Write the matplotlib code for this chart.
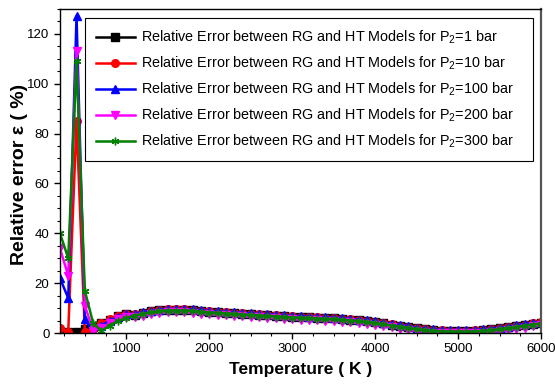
import numpy as np
import matplotlib
matplotlib.use('Agg')
import matplotlib.pyplot as plt
from matplotlib.ticker import MultipleLocator

plt.rcParams['font.family'] = ['Liberation Sans', 'DejaVu Sans']
plt.rcParams['mathtext.default'] = 'regular'

# --- Data ---
temperature = list(range(200, 6001, 100))

err_1bar = [0.3, 0.4, 0.6, 1.5, 2.5, 3.9, 5.4, 6.7, 7.5,
            7.4, 8.1, 8.7, 9.1, 9.4, 9.4, 9.4, 9.2, 8.9, 8.6,
            8.4, 8.2, 8.0, 7.8, 7.6, 7.4, 7.2, 7.0, 6.8, 6.6,
            6.5, 6.3, 6.2, 6.0, 5.9, 5.7, 5.4, 5.1, 4.8, 4.4,
            3.9, 3.4, 2.9, 2.4, 1.9, 1.5, 1.2, 1.0, 0.9, 0.9,
            0.9, 1.0, 1.2, 1.5, 1.9, 2.3, 2.8, 3.3, 3.8, 4.2]
err_10bar = [2.0, 0.5, 85.0, 0.5, 1.5, 4.0, 5.5, 6.8, 7.6,
             7.5, 8.2, 8.8, 9.2, 9.5, 9.5, 9.5, 9.3, 9.0, 8.7,
             8.5, 8.3, 8.1, 7.9, 7.7, 7.5, 7.3, 7.1, 6.9, 6.7,
             6.6, 6.4, 6.3, 6.1, 6.0, 5.8, 5.5, 5.2, 4.9, 4.5,
             4.0, 3.5, 3.0, 2.5, 2.0, 1.6, 1.3, 1.1, 1.0, 1.0,
             1.0, 1.1, 1.3, 1.6, 2.0, 2.4, 2.9, 3.4, 3.9, 4.3]
err_100bar = [22.0, 14.0, 127.0, 5.5, 0.5, 3.0, 5.0, 6.5, 7.6,
              7.7, 8.4, 9.0, 9.4, 9.7, 9.7, 9.7, 9.5, 9.2, 8.9,
              8.7, 8.5, 8.3, 8.1, 7.9, 7.7, 7.5, 7.3, 7.1, 6.9,
              6.8, 6.6, 6.5, 6.3, 6.2, 6.0, 5.7, 5.4, 5.1, 4.7,
              4.2, 3.7, 3.2, 2.7, 2.2, 1.8, 1.5, 1.3, 1.2, 1.2,
              1.2, 1.3, 1.5, 1.8, 2.2, 2.6, 3.1, 3.6, 4.1, 4.5]
err_200bar = [34.0, 23.0, 113.0, 11.0, 1.0, 2.0, 4.0, 5.5, 6.5,
              6.3, 7.0, 7.6, 8.0, 8.3, 8.3, 8.3, 8.1, 7.8, 7.5,
              7.3, 7.1, 6.9, 6.7, 6.5, 6.3, 6.1, 5.9, 5.7, 5.5,
              5.4, 5.2, 5.1, 4.9, 4.8, 4.6, 4.3, 4.0, 3.7, 3.3,
              2.8, 2.3, 1.8, 1.3, 0.8, 0.4, 0.2, 0.1, 0.1, 0.1,
              0.1, 0.1, 0.2, 0.4, 0.8, 1.2, 1.7, 2.2, 2.7, 3.1]
err_300bar = [40.0, 30.0, 109.0, 17.0, 4.0, 0.8, 3.0, 4.8, 6.0,
              7.0, 7.7, 8.3, 8.7, 9.0, 9.0, 9.0, 8.8, 8.5, 8.2,
              8.0, 7.8, 7.6, 7.4, 7.2, 7.0, 6.8, 6.6, 6.4, 6.2,
              6.1, 5.9, 5.8, 5.6, 5.5, 5.3, 5.0, 4.7, 4.4, 4.0,
              3.5, 3.0, 2.5, 2.0, 1.5, 1.1, 0.8, 0.6, 0.5, 0.5,
              0.5, 0.6, 0.8, 1.1, 1.5, 1.9, 2.4, 2.9, 3.4, 3.8]

pressures = ['1', '10', '100', '200', '300']
series = [err_1bar, err_10bar, err_100bar, err_200bar, err_300bar]
colors_ = ['black', 'red', 'blue', 'magenta', 'green']
markers = ['s', 'o', '^', 'v', (6, 2, 0)]

# --- Plot ---
fig = plt.figure(figsize=(5.55, 3.85), dpi=100)
ax = fig.add_axes([0.108, 0.135, 0.867, 0.842])

for p, vals, c, m in zip(pressures, series, colors_, markers):
    ax.plot(temperature, vals, color=c, marker=m, markersize=5.5, lw=1.8,
            label='Relative Error between RG and HT Models for P$_2$=' + p + ' bar')

ax.set_xlim(200, 6000)
ax.set_ylim(0, 130)
ax.xaxis.set_major_locator(MultipleLocator(1000))
ax.xaxis.set_minor_locator(MultipleLocator(250))
ax.yaxis.set_major_locator(MultipleLocator(20))
ax.yaxis.set_minor_locator(MultipleLocator(5))
ax.set_xticks([1000, 2000, 3000, 4000, 5000, 6000])
ax.tick_params(which='major', direction='out', length=4, width=1, labelsize=9.5)
ax.tick_params(which='minor', direction='out', length=2.5, width=0.8)
for s in ax.spines.values():
    s.set_linewidth(1)
ax.spines['right'].set_color('#555555')
ax.spines['right'].set_linewidth(1.6)

ax.set_xlabel('Temperature ( K )', fontsize=12.5, fontweight='bold')
ax.set_ylabel('Relative error ε ( %)', fontsize=14, fontweight='bold')
ax.xaxis.set_label_coords(0.5, -0.09)
ax.yaxis.set_label_coords(-0.066, 0.49)

leg = ax.legend(loc='upper left', bbox_to_anchor=(0.052, 0.5, 0.931, 0.472),
                mode='expand', borderaxespad=0,
                fontsize=10.4, fancybox=False, edgecolor='black', framealpha=1,
                handlelength=2.7, handletextpad=0.4, labelspacing=0.6, borderpad=0.75)
leg.get_frame().set_linewidth(0.8)

plt.savefig('out.png', dpi=100)
